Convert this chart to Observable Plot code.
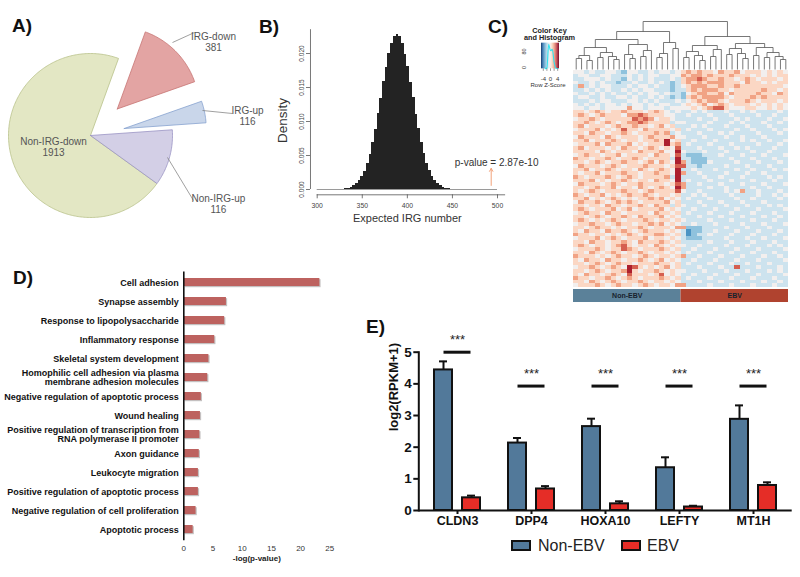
<!DOCTYPE html>
<html><head><meta charset="utf-8">
<script src="https://cdn.jsdelivr.net/npm/d3@7"></script>
<script src="https://cdn.jsdelivr.net/npm/@observablehq/plot@0.6"></script>
<style>
body{margin:0;background:#fff;}
#fig{position:relative;width:800px;height:577px;overflow:hidden;background:#fff;font-family:'Liberation Sans',Arial,sans-serif;}
.panel{position:absolute;}
.letter{position:absolute;font-weight:bold;font-size:19px;line-height:19px;color:#111;}
.legtxt{position:absolute;font-size:16px;line-height:16px;color:#222;font-family:'Liberation Sans Narrow','Arial Narrow','Liberation Sans',Arial,sans-serif;}
.legbox{position:absolute;width:16px;height:7px;border:2px solid #111;}
</style></head><body><div id="fig"></div><script>
// ---------------- DATA ----------------
// Panel A (pie)
const pieLabels = ["IRG-up", "IRG-down", "Non-IRG-down", "Non-IRG-up"];
const pieCountText = ["116", "381", "1913", "116"];
const pieValues = [116, 381, 1913, 300];          // slice sizes as drawn
const pieExplode = [0.42, 0.46, 0, 0];
const pieFill = ["#c9d6ea", "#e3a4a3", "#e3e7c4", "#d3cfe6"];
const pieStroke = ["#86a2cf", "#c77574", "#b9c28a", "#9b94c4"];
const pieStartDeg = 4;
const pieTextPos = [[1.915, 0.244], [1.5, 1.14], [-0.451, -0.134], [1.56, -0.835]];
const pieLeaderPos = [[1.366, 0.305, 1.732, 0.268], [1.0, 1.134, 1.268, 1.256], null, [0.939, -0.268, 1.256, -0.793]];

// Panel B (histogram of expected IRG number)
const histBinCenters = [329,332,335,338,341,344,347,350,353,356,359,362,365,368,371,374,377,380,383,386,389,392,395,398,401,404,407,410,413,416,419,422,425,428,431,434,437,440,443,446,449];
const histDensity = [0.00006,0.00012,0.0002,0.00034,0.00052,0.00085,0.00127,0.00192,0.0027,0.00388,0.0052,0.00698,0.00885,0.01112,0.0134,0.01582,0.01798,0.02001,0.02146,0.0225,0.02278,0.02243,0.02152,0.01992,0.01806,0.01574,0.01348,0.01105,0.00893,0.0069,0.00527,0.00382,0.00276,0.00188,0.00129,0.00082,0.00054,0.00032,0.00021,0.00011,0.00006];
const histXTicks = [300, 350, 400, 450, 500];
const histYTicks = [0, 0.005, 0.01, 0.015, 0.02];
const observedIRG = 493;
const pValueText = "p-value = 2.87e-10";

// Panel C (heatmap, row z-scores coded 0..9 -> -4..5; 20 Non-EBV + 20 EBV samples)
const heatRows = [
"44343344324433434434 56565546556455545454",
"34433443334343443344 65665655565554545455",
"33444343324343433343 56676556554565455545",
"43343433233433434323 56565666555465545455",
"36343443334344343323 45666556556555555554",
"33434343343434433323 35656665545555565545",
"43343434334343443433 24566556465555655465",
"34433433443433434323 25656666545556565555",
"33343443334434343334 34565665455565455545",
"43434344343443434433 45456456545554545454",
"44344344446443444344 44545677544455445454",
"55456545565554565434 33434333433434333343",
"56545655546676555443 34333433343333433433",
"45565455555767645543 33343343334343334334",
"55654565456676555534 43333433343433343343",
"56455545655655456453 33434333433343334333",
"45556454575546555545 34333433334334333434",
"55465545565455565634 33343334343333433343",
"46555465455545655564 43334333433433343333",
"55645556545545565845 33433343333434334334",
"45556465556454555856 34333433343333433343",
"56455545465545654547 33343334334343333433",
"55554654555465556448 43334333433334334333",
"45655455645555465547 32223334333433343334",
"65545565455654555538 33222333343334333433",
"55456545565545646548 63222433334333433343",
"46555456545556555457 73323333433343334333",
"55645565455465456548 33433343334334333434",
"54556455565545565548 63343333433343343333",
"65455565456545555638 33334334333433334343",
"55564545565455465548 34333433343334333433",
"46555456545565555457 63343334333433343334",
"55456556455465456548 63333433433334334333",
"54565455565545655557 43343333434633433343",
"65455645456556545545 33434333343333433434",
"55645456545455656454 34333433334334333343",
"46556545656545555645 33343334333433343333",
"55455465545565465535 43334333433343334343",
"56545556456455556454 33433343334333433334",
"45655465545555465545 34333433343334333433",
"55456545565465556454 33343334333433343343",
"56545456545556545545 43333433343334333433",
"45565545655455656454 33433343333433343334",
"55456554545565455546 62223333433343334333",
"54655465565456555454 31223343334333433343",
"65545545456545566545 31233433343334333433",
"45556456545556455454 32223333433343343334",
"55465545565465556545 33333433343334333433",
"56545545675455465454 43343333433343334343",
"45556545576545556545 33433343334333433334",
"55465456545565455454 34333433343334333433",
"65554545655456545545 63343334333433343343",
"54655465545565456454 33433343334333433334",
"55456545655455565545 34333433343343334333",
"45565456548754545645 33343334337333433343",
"55456545568545565454 43334333433343334343",
"54655456547555457454 33433343334333433334",
"65545565456545556545 34333433343334333433",
"55465456545565455454 33343334333433343343",
"45556545655456545546 63333433343334333433"
];
const heatGroups = ["Non-EBV", "EBV"];
const heatGroupFill = ["#5b8199", "#b0432f"];
// column dendrogram: [height, left, right], leaves = column index
const dendroTree = [48,
  [38,
    [30,
      [22, [14, [11, 0, 1], [9, 2, 3]], [17, [12, 4, 5], [13, 6, [10, 7, 8]]]],
      [25, [15, 9, [11, 10, 11]], [19, [13, 12, 13], 14]]
    ],
    [27, [16, [12, 15, 16], 17], [21, 18, 19]]
  ],
  [33,
    [24, [18, [12, 20, 21], [14, 22, [9, 23, 24]]], [20, [13, 25, 26], 27]],
    [26, [21, [15, 28, 29], [16, 30, [11, 31, 32]]], [22, [14, 33, 34], [17, [12, 35, 36], [13, 37, [10, 38, 39]]]]]
  ]
];

// Panel D (GO enrichment)
const goTerms = ["Cell adhesion","Synapse assembly","Response to lipopolysaccharide","Inflammatory response","Skeletal system development","Homophilic cell adhesion via plasma\nmembrane adhesion molecules","Negative regulation of apoptotic process","Wound healing","Positive regulation of transcription from\nRNA polymerase II promoter","Axon guidance","Leukocyte migration","Positive regulation of apoptotic process","Negative regulation of cell proliferation","Apoptotic process"];
const goValues = [23.3, 7.3, 7.0, 5.3, 4.3, 4.1, 3.0, 2.85, 2.75, 2.65, 2.5, 2.5, 2.1, 1.6];
const goTicks = [0, 5, 10, 15, 20, 25];

// Panel E (expression)
const genes = ["CLDN3", "DPP4", "HOXA10", "LEFTY", "MT1H"];
const nonEBVMean = [4.44, 2.13, 2.65, 1.35, 2.88];
const nonEBVSem = [0.27, 0.16, 0.25, 0.33, 0.44];
const ebvMean = [0.40, 0.68, 0.21, 0.11, 0.79];
const ebvSem = [0.07, 0.09, 0.08, 0.04, 0.10];
const sigBarLevel = [5.0, 3.93, 3.93, 3.93, 3.93];
const sigText = ["***", "***", "***", "***", "***"];
const eTicks = [0, 1, 2, 3, 4, 5];
const eGroupFill = ["#52799a", "#e52d27"];

// ---------------- HELPERS ----------------
const NARROW = "'Liberation Sans Narrow','Arial Narrow','Liberation Sans',Arial,sans-serif";
const SANS = "'Liberation Sans',Arial,Helvetica,sans-serif";
const fig = document.getElementById("fig");
function place(node, left, top, w, h, clip) {
  const d = document.createElement("div");
  d.className = "panel";
  Object.assign(d.style, {left: left + "px", top: top + "px", width: w + "px", height: h + "px"});
  if (clip) d.style.overflow = "hidden";
  d.appendChild(node); fig.appendChild(d);
}
function html(cls, text, left, top, extra) {
  const s = document.createElement("div");
  s.className = cls; if (text) s.textContent = text;
  Object.assign(s.style, {left: left + "px", top: top + "px"}, extra || {});
  fig.appendChild(s);
}
const baseStyle = {background: "transparent", overflow: "visible", fontFamily: SANS, color: "#111"};
const heatColor = {type: "diverging", scheme: "rdbu", reverse: true, domain: [-5, 5], pivot: 0};

// ---------------- PANEL A ----------------
{
  const total = d3.sum(pieValues);
  let a0 = pieStartDeg * Math.PI / 180;
  const marks = [];
  pieValues.forEach((v, i) => {
    const span = v / total * 2 * Math.PI, a1 = a0 + span, mid = (a0 + a1) / 2;
    const ox = pieExplode[i] * Math.cos(mid), oy = pieExplode[i] * Math.sin(mid);
    const n = Math.max(2, Math.ceil(span / (Math.PI / 180)));
    const pts = [{x: ox, y: oy}];
    for (let k = 0; k <= n; k++) { const a = a0 + span * k / n; pts.push({x: ox + Math.cos(a), y: oy + Math.sin(a)}); }
    pts.push({x: ox, y: oy});
    marks.push(Plot.line(pts, {x: "x", y: "y", fill: pieFill[i], stroke: pieStroke[i], strokeWidth: 0.8}));
    a0 = a1;
  });
  const leaders = pieLeaderPos.map((p, i) => p && {x1: p[0], y1: p[1], x2: p[2], y2: p[3]}).filter(Boolean);
  const texts = pieLabels.map((l, i) => ({t: l + "\n" + pieCountText[i], x: pieTextPos[i][0], y: pieTextPos[i][1]}));
  marks.push(Plot.link(leaders, {x1: "x1", y1: "y1", x2: "x2", y2: "y2", stroke: "#777", strokeWidth: 0.7}));
  marks.push(Plot.text(texts, {x: "x", y: "y", text: "t", fontSize: 10, fill: "#555", lineHeight: 1.1}));
  const p = Plot.plot({width: 265, height: 250, margin: 0,
    x: {domain: [-90 / 82, 175 / 82], axis: null}, y: {domain: [-115 / 82, 135 / 82], axis: null},
    style: baseStyle, marks});
  place(p, 0, 0, 265, 250);
}

// ---------------- PANEL B ----------------
{
  const hist = histBinCenters.map((m, i) => ({m, d: histDensity[i]}));
  const pxPerUnit = (227 - 46.7) / 200, pxPerDens = (189 - 53) / 0.02;
  const p = Plot.plot({width: 270, height: 240,
    x: {domain: [300, 500], range: [46.7, 227], axis: null},
    y: {domain: [0, 0.02], range: [189, 53], axis: null},
    style: baseStyle,
    marks: [
      Plot.rect(hist, {x1: d => d.m - 1.5, x2: d => d.m + 1.5, y1: () => 0, y2: "d", fill: "#232323", shapeRendering: "crispEdges"}),
      Plot.ruleY([0], {x1: 300, x2: 500, stroke: "#9a9a9a", strokeWidth: 1}),
      // y axis
      Plot.ruleX([300], {y1: 0, y2: 0.0235, dx: -6.7, stroke: "#555", strokeWidth: 0.8}),
      Plot.ruleY(histYTicks, {y: d => d, x1: 300 - 4 / pxPerUnit, x2: 300, dx: -6.7, stroke: "#555", strokeWidth: 0.8}),
      Plot.text(histYTicks, {x: () => 300, y: d => d, text: d => d.toFixed(3), rotate: -90, dx: -15, fontSize: 6.5, fill: "#444"}),
      // x axis
      Plot.ruleY([0], {x1: 300, x2: 509, dy: 5.3, stroke: "#555", strokeWidth: 0.8}),
      Plot.ruleX(histXTicks, {x: d => d, y1: 0, y2: -4 / pxPerDens, dy: 5.3, stroke: "#555", strokeWidth: 0.8}),
      Plot.text(histXTicks, {x: d => d, y: () => 0, dy: 16, text: d => String(d), fontSize: 6.8, fill: "#444"}),
      Plot.text(["Density"], {x: () => 261.2, y: () => 0.01015, rotate: -90, fontSize: 13.5, fill: "#333"}),
      Plot.text(["Expected IRG number"], {x: () => 400, y: () => -0.00426, fontSize: 11, fill: "#333"}),
      Plot.text([pValueText], {x: () => 452.6, y: () => 0.0040, textAnchor: "start", fontSize: 10, fill: "#333"}),
      Plot.arrow([observedIRG], {x1: d => d, x2: d => d, y1: () => 0.0006, y2: () => 0.0031, stroke: "#f2a27a", strokeWidth: 1, headLength: 5})
    ]});
  place(p, 270, 0, 270, 240);
}

// ---------------- PANEL C ----------------
const heatCells = [];
heatRows.forEach((s, r) => s.replace(/ /g, "").split("").forEach((ch, c) => heatCells.push({r, c, v: +ch - 4})));
const nCols = 40, nRows = heatRows.length, nNon = 20;
{
  const p = Plot.plot({width: 275, height: 310,
    x: {domain: [0, nCols], range: [48, 263], axis: null},
    y: {domain: [0, nRows], range: [70, 287], axis: null},
    color: heatColor, style: baseStyle,
    marks: [
      Plot.rect(heatCells, {x1: "c", x2: d => d.c + 1, y1: "r", y2: d => d.r + 1, fill: "v", shapeRendering: "crispEdges"}),
      Plot.rect([heatGroups[0]], {x1: () => 0, x2: () => nNon, y1: () => nRows + 0.55, y2: () => nRows + 4.15, fill: heatGroupFill[0]}),
      Plot.rect([heatGroups[1]], {x1: () => nNon, x2: () => nCols, y1: () => nRows + 0.55, y2: () => nRows + 4.15, fill: heatGroupFill[1]}),
      Plot.text(heatGroups, {x: (d, i) => i === 0 ? nNon / 2 : (nNon + nCols) / 2, y: () => nRows + 2.35, text: d => d, fontSize: 7, fontWeight: "bold", fill: "#18222d"})
    ]});
  place(p, 525, 0, 275, 310);
  // dendrogram
  const segs = [];
  (function walk(node) {
    if (typeof node === "number") return {x: node + 0.5, h: 0};
    const [h, a, b] = node; const A = walk(a), B = walk(b);
    segs.push({x1: A.x, y1: A.h, x2: A.x, y2: h}, {x1: B.x, y1: B.h, x2: B.x, y2: h}, {x1: A.x, y1: h, x2: B.x, y2: h});
    return {x: (A.x + B.x) / 2, h};
  })(dendroTree);
  const pd = Plot.plot({width: 275, height: 75,
    x: {domain: [0, nCols], range: [48, 263], axis: null},
    y: {domain: [0, 48], range: [69, 21], axis: null}, style: baseStyle,
    marks: [Plot.link(segs, {x1: "x1", y1: "y1", x2: "x2", y2: "y2", stroke: "#555", strokeWidth: 0.8})]});
  place(pd, 525, 0, 275, 75);
  // colour key and histogram
  const counts = d3.rollups(heatCells, g => g.length, d => d.v).map(([v, n]) => ({v, n})).sort((a, b) => a.v - b.v);
  const H = d3.max(counts, d => d.n) * 1.05;
  const keySteps = d3.range(-5, 5, 0.5);
  const pk = Plot.plot({width: 60, height: 66,
    x: {domain: [-5, 5], range: [23, 41], axis: null},
    y: {domain: [0, H], range: [44.3, 18.7], axis: null},
    color: heatColor, style: baseStyle,
    marks: [
      Plot.rect(keySteps, {x1: d => d, x2: d => d + 0.5, y1: () => 0, y2: () => H, fill: d => d + 0.25}),
      Plot.line(counts, {x: "v", y: "n", stroke: "#2fe3ef", strokeWidth: 1.1, curve: "monotone-x"}),
      Plot.ruleX([-4, -2, 0, 2, 4], {x: d => d, y1: () => 0, y2: () => -0.1 * H, stroke: "#555", strokeWidth: 0.6}),
      Plot.text([-4, 0, 4], {x: d => d, y: () => -0.418 * H, text: d => String(d), fontSize: 6, fill: "#333"}),
      Plot.text(["Row Z-Score"], {x: () => -1.39, y: () => -0.652 * H, fontSize: 6, fill: "#333"}),
      Plot.text(["0", "80"], {x: () => -5, y: (d, i) => i === 0 ? 0.05 * H : 0.676 * H, text: d => d, rotate: -90, dx: -17, fontSize: 5.5, fill: "#333"}),
      Plot.text(["Color Key", "and Histogram"], {x: () => -0.556, y: (d, i) => i === 0 ? 1.496 * H : 1.203 * H, text: d => d, fontSize: 7.3, fontWeight: "bold", fill: "#222"})
    ]});
  place(pk, 518, 24, 60, 66);
}

// ---------------- PANEL D ----------------
{
  const go = goTerms.map((term, i) => ({term, v: goValues[i]}));
  const p = Plot.plot({width: 345, height: 312,
    marginLeft: 183.3, marginRight: 15.7, marginTop: 9.4, marginBottom: 33.7,
    x: {domain: [0, 25], axis: null},
    y: {domain: goTerms, paddingInner: 0.57, paddingOuter: 0.285, axis: null},
    style: baseStyle,
    marks: [
      Plot.barX(go, {x: "v", y: "term", fill: "#c4c0c0", dx: 1.2, dy: 1.2}),
      Plot.barX(go, {x: "v", y: "term", fill: "#bd625f"}),
      Plot.ruleX([0], {stroke: "#111", strokeWidth: 1.6}),
      Plot.text(go, {x: () => 0, y: "term", text: "term", textAnchor: "end", dx: -5, fontSize: 9, fontWeight: "bold", fontFamily: NARROW, lineHeight: 1.05, fill: "#111"}),
      Plot.axisX({ticks: goTicks, tickSize: 0, tickPadding: 5, fontSize: 8, fill: "#333", label: null}),
      Plot.text(["-log(p-value)"], {x: () => 12.5, frameAnchor: "bottom", dy: 19.7, fontSize: 8, fontWeight: "bold", fill: "#222"})
    ]});
  place(p, 0, 262, 345, 312);
}

// ---------------- PANEL E ----------------
{
  const e = genes.map((gene, i) => ({gene, non: nonEBVMean[i], nonSem: nonEBVSem[i], ebv: ebvMean[i], ebvSem: ebvSem[i], sig: sigBarLevel[i], star: sigText[i]}));
  const p = Plot.plot({width: 415, height: 267,
    marginLeft: 33.3, marginRight: 8.3, marginTop: 41.7, marginBottom: 67,
    x: {domain: genes, paddingInner: 0.373, paddingOuter: 0.176, axis: null},
    y: {domain: [0, 5], axis: null},
    style: baseStyle,
    marks: [
      Plot.barY(e, {x: "gene", y: "non", fill: eGroupFill[0], stroke: "#111", strokeWidth: 2, insetRight: 28}),
      Plot.barY(e, {x: "gene", y: "ebv", fill: eGroupFill[1], stroke: "#111", strokeWidth: 2, insetLeft: 28}),
      Plot.ruleX(e, {x: "gene", y1: "non", y2: d => d.non + d.nonSem, dx: -14, stroke: "#111", strokeWidth: 2}),
      Plot.tickY(e, {x: "gene", y: d => d.non + d.nonSem, insetLeft: 5, insetRight: 33, stroke: "#111", strokeWidth: 2}),
      Plot.ruleX(e, {x: "gene", y1: "ebv", y2: d => d.ebv + d.ebvSem, dx: 14, stroke: "#111", strokeWidth: 2}),
      Plot.tickY(e, {x: "gene", y: d => d.ebv + d.ebvSem, insetLeft: 33, insetRight: 5, stroke: "#111", strokeWidth: 2}),
      Plot.tickY(e, {x: "gene", y: "sig", insetLeft: 9.5, insetRight: 9.5, stroke: "#111", strokeWidth: 3}),
      Plot.text(e, {x: "gene", y: "sig", text: "star", dy: -12, fontSize: 13, fill: "#222"}),
      Plot.ruleY([0], {stroke: "#111", strokeWidth: 2}),
      Plot.frame({anchor: "left", stroke: "#111", strokeWidth: 2}),
      Plot.axisY({ticks: eTicks, tickFormat: d => String(d), tickSize: 5, tickPadding: 2, strokeWidth: 2, fontSize: 13.5, fontWeight: "bold", fontFamily: NARROW, label: null}),
      Plot.axisX({tickSize: 4, tickPadding: 2, strokeWidth: 2, fontSize: 12.5, fontWeight: "bold", fontFamily: NARROW, label: null}),
      Plot.text(["log2(RPKM+1)"], {frameAnchor: "left", rotate: -90, dx: -25, fontSize: 13, fontWeight: "bold", fill: "#111"})
    ]});
  place(p, 385, 310, 415, 267);
  // legend
  html("legbox", "", 511, 540, {background: eGroupFill[0]});
  html("legtxt", "Non-EBV", 538, 538);
  html("legbox", "", 621, 540, {background: eGroupFill[1]});
  html("legtxt", "EBV", 647, 538);
}

// ---------------- PANEL LETTERS ----------------
html("letter", "A)", 12, 16);
html("letter", "B)", 259, 17);
html("letter", "C)", 488, 17);
html("letter", "D)", 13, 268);
html("letter", "E)", 366, 317);
</script></body></html>
